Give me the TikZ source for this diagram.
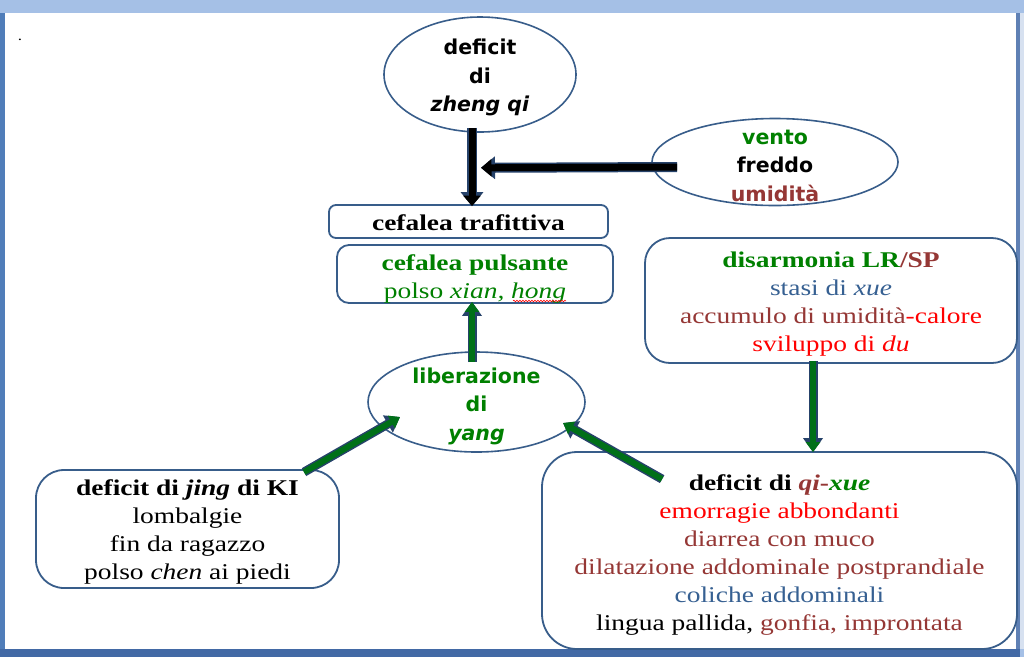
\documentclass[tikz,border=0pt]{standalone}
\usepackage{fontspec}
\setmainfont{Liberation Serif}[FakeStretch=1.22]
\newfontfamily\vsans{DejaVu Sans}
\usetikzlibrary{shapes.geometric,arrows.meta,decorations.pathmorphing,calc}
\definecolor{bordc}{RGB}{56,93,138}
\definecolor{tgreen}{RGB}{0,128,0}
\definecolor{dred}{RGB}{149,55,53}
\definecolor{tblue}{RGB}{54,96,146}
\definecolor{agreen}{RGB}{0,112,24}
\definecolor{aout}{RGB}{38,66,106}
\definecolor{band}{RGB}{165,192,230}
\definecolor{edgeL}{RGB}{80,125,185}
\definecolor{edgeB}{RGB}{66,105,165}
\definecolor{edgeR}{RGB}{95,128,180}
\definecolor{paleR}{RGB}{215,225,240}
\newcommand{\tpstrut}[1]{\rule{0pt}{#1pt}}
\tikzset{
  boxnode/.style={draw=bordc, line width=1.8pt, fill=white, align=center, inner sep=0pt,
    font=\fontsize{22.5}{28}\selectfont},
  ellnode/.style={ellipse, draw=bordc, line width=1.6pt, fill=white, align=center,
    inner xsep=0pt, inner ysep=-18pt, font=\vsans\bfseries\fontsize{20.5}{28.5}\selectfont},
  bout/.style={line width=10pt, draw=aout, -{Triangle[width=22pt,length=14pt]}},
  bin/.style={line width=7pt, draw=black, -{Triangle[width=17pt,length=10.5pt]}},
  gout/.style={line width=9pt, draw=aout, -{Triangle[width=19pt,length=14pt]}},
  gin/.style={line width=6pt, draw=agreen, -{Triangle[width=14pt,length=10pt]}},
}
\begin{document}
\begin{tikzpicture}[x=1pt,y=-1pt]
\useasboundingbox (0,0) rectangle (1024,657);
% frame
\fill[band] (0,0) rectangle (1024,657);
\fill[paleR] (1016,13) rectangle (1024,649);
\fill[white] (5,13) rectangle (1016,649);
\fill[edgeL] (0,13) rectangle (5,657);
\fill[edgeR] (1016,13) rectangle (1020,657);
\fill[edgeB] (0,649) rectangle (1020,657);
\node[anchor=base, font=\fontsize{14}{14}\selectfont] (dot) at (20,40) {.};

% nodes
\node[ellnode, minimum width=192pt, minimum height=115pt] (zq) at (480,74.5)
  {\tpstrut{21.5}deficit\\di\\\textit{zheng qi}};
\node[ellnode, minimum width=246pt, minimum height=87pt] (vfu) at (775,162)
  {\tpstrut{22}\textcolor{tgreen}{vento}\\freddo\\\textcolor{dred}{umidità}};
\node[boxnode, rounded corners=7pt, minimum width=279pt, minimum height=33pt] (traf) at (468.5,221.5)
  {\tpstrut{17.5}\bfseries cefalea trafittiva};
\node[boxnode, rounded corners=12pt, minimum width=276pt, minimum height=58pt, text=tgreen] (puls) at (475,274)
  {{\tpstrut{25}\bfseries cefalea pulsante}\\polso \textit{xian, hong}};
\node[ellnode, minimum width=217pt, minimum height=100pt, text=tgreen] (lib) at (476.5,402)
  {\tpstrut{23.5}liberazione\\di\\\textit{yang}};
\node[boxnode, rounded corners=25pt, minimum width=372pt, minimum height=125pt] (dis) at (831,300.5)
  {{\tpstrut{22.5}\bfseries\textcolor{tgreen}{disarmonia LR}\textcolor{dred}{/SP}}\\
   \textcolor{tblue}{stasi di \textit{xue}}\\
   \textcolor{dred}{accumulo di umidità}\textcolor{red}{-calore}\\
   \textcolor{red}{sviluppo di \textit{du}}};
\node[boxnode, rounded corners=35pt, minimum width=475pt, minimum height=197pt] (qx) at (779.5,550.5)
  {{\tpstrut{25.5}\bfseries deficit di \textcolor{dred}{\itshape qi}\textcolor{dred}{-}\textcolor{tgreen}{\itshape xue}}\\
   \textcolor{red}{emorragie abbondanti}\\
   \textcolor{dred}{diarrea con muco}\\
   \textcolor{dred}{dilatazione addominale postprandiale}\\
   \textcolor{tblue}{coliche addominali}\\
   lingua pallida, \textcolor{dred}{gonfia, improntata}};
\node[boxnode, rounded corners=28pt, minimum width=303pt, minimum height=118pt] (jing) at (187.5,529)
  {{\tpstrut{21.5}\bfseries deficit di \textit{jing} di KI}\\
   lombalgie\\
   fin da ragazzo\\
   polso \textit{chen} ai piedi};

% spell-check squiggle under "hong"
\draw[red, line width=0.6pt, decorate, decoration={snake, amplitude=0.8pt, segment length=3pt}]
  (513,301) -- (566,301);

% arrow end points
\coordinate (a1s) at ($(zq.south)+(-8,-5)$);
\coordinate (a1e) at ($(traf.north)+(3.5,2)$);
\coordinate (a2s) at ($(vfu.west)+(26,5)$);
\coordinate (a2e) at ($(zq.south)+(1,35)$);
\coordinate (a3s) at ($(lib.north)+(-4.5,11)$);
\coordinate (a3e) at ($(puls.south)+(-3,-2)$);
\coordinate (a4s) at ($(dis.south)+(-18,-3)$);
\coordinate (a4e) at ($(qx.north)+(33.5,1)$);
\coordinate (a5s) at ($(jing.north)+(116.5,3)$);
\coordinate (a5e) at ($(lib.center)+(-76.5,15)$);
\coordinate (a6s) at ($(qx.north west)+(121,28)$);
\coordinate (a6e) at ($(lib.center)+(86.5,21)$);

% arrows
\draw[bout] (a1s) -- (a1e);
\draw[bin]  (a1s) -- (a1e);
\draw[bout] (a2s) -- (a2e);
\draw[bin]  (a2s) -- (a2e);
\draw[gout] (a3s) -- (a3e);
\draw[gin]  (a3s) -- (a3e);
\draw[gout] (a4s) -- (a4e);
\draw[gin]  (a4s) -- (a4e);
\draw[gout] (a5s) -- (a5e);
\draw[gin]  (a5s) -- (a5e);
\draw[gout] (a6s) -- (a6e);
\draw[gin]  (a6s) -- (a6e);
\end{tikzpicture}
\end{document}
